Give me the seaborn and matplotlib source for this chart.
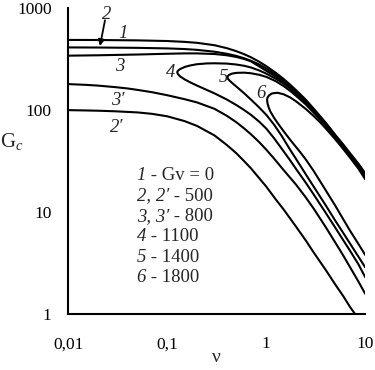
import matplotlib
matplotlib.use("Agg")
import matplotlib.pyplot as plt
import seaborn as sns
import pandas as pd
from matplotlib.ticker import LogLocator, FixedLocator, FixedFormatter, NullFormatter
from matplotlib.transforms import offset_copy

# ---- data (nu, Gc) ----
nu_1 = [0.01, 0.02, 0.05, 0.1, 0.15, 0.2, 0.3, 0.4, 0.5, 0.6, 0.7, 0.85, 1, 1.25, 1.5,
        1.75, 2, 2.5, 3, 4, 5, 6, 7, 8.5, 10]
G_1 = [488, 487, 483, 476, 467, 457, 433, 405, 378, 353, 330, 298, 270, 232, 202,
       177, 157, 127, 104, 75, 57, 46, 38, 30, 24]

nu_2 = [0.01, 0.02, 0.05, 0.1, 0.15, 0.2, 0.3, 0.4, 0.5, 0.6, 0.7, 0.85, 1, 1.25, 1.5,
        1.75, 2, 2.5, 3, 4, 5, 6, 7, 8.5, 10]
G_2 = [412, 411, 408, 403, 397, 390, 374, 357, 340, 322, 305, 280, 256, 222, 194,
       171, 152, 124, 102, 74, 56, 45, 37.3, 29.5, 23.6]

nu_3 = [0.01, 0.02, 0.05, 0.1, 0.15, 0.2, 0.3, 0.4, 0.5, 0.6, 0.7, 0.85, 1, 1.25, 1.5,
        1.75, 2, 2.5, 3, 4, 5, 6, 7, 8.5, 10]
G_3 = [342, 345, 351, 357, 360, 360, 355, 345, 332, 317, 301, 268, 243, 213, 188,
       166, 148, 121, 100, 73, 55.5, 44.5, 36.8, 29, 23.2]

nu_2p = [0.01, 0.015, 0.02, 0.03, 0.05, 0.07, 0.1, 0.15, 0.2, 0.3, 0.4, 0.5, 0.6, 0.7,
         0.85, 1, 1.25, 1.5, 2, 2.5, 3, 4, 5, 6, 7, 7.9]
G_2p = [100, 99.3, 98.7, 97.4, 95, 92, 87, 78, 70, 56.5, 45.5, 37.7, 31.5, 26.9,
        21.5, 17.8, 13.3, 10.6, 7.2, 5.3, 4.05, 2.7, 1.94, 1.5, 1.18, 1.0]

nu_3p = [0.01, 0.015, 0.02, 0.03, 0.04, 0.05, 0.07, 0.1, 0.15, 0.2, 0.3, 0.4, 0.5, 0.6,
         0.7, 0.85, 1, 1.2, 1.5, 2, 2.5, 3, 4, 5, 6, 7, 8.5, 10]
G_3p = [180, 177, 174, 168, 163, 158, 150, 140, 128, 119, 103, 88, 76, 66,
        58, 48.5, 41, 33.5, 25.8, 18.6, 14, 10.9, 7.1, 5, 3.75, 2.9, 2.1, 1.58]

nu_4 = [10, 8.5, 7, 6, 5, 4, 3, 2.5, 2, 1.75, 1.5, 1.25, 1, 0.85, 0.7, 0.6, 0.5, 0.4,
        0.3, 0.25, 0.2, 0.17, 0.15, 0.135, 0.128, 0.126,
        0.128, 0.135, 0.15, 0.175, 0.2, 0.25, 0.3, 0.4, 0.5, 0.6, 0.7, 0.85, 1, 1.2,
        1.43, 1.75, 2, 2.5, 3, 4, 5, 6, 7, 8.5, 10]
G_4 = [22.8, 28.5, 36.3, 44, 54.5, 72, 98, 118, 144, 162, 182, 203, 228, 245, 262, 272,
       280, 286, 288, 287, 282, 274, 265, 253, 243, 236,
       226, 214, 200, 185, 174, 158, 146, 127, 112, 100, 90, 77, 66, 53,
       42, 32, 26.5, 19.5, 15, 9.8, 7, 5.3, 4.2, 3.1, 2.3]

nu_5 = [10, 8.5, 7, 6, 5, 4, 3, 2.5, 2, 1.75, 1.5, 1.25, 1, 0.85, 0.7, 0.6, 0.5, 0.45,
        0.42, 0.405,
        0.41, 0.43, 0.46, 0.5, 0.6, 0.7, 0.85, 1, 1.2, 1.43, 1.74, 2, 2.5, 3, 4, 5, 6,
        7, 8.5, 10]
G_5 = [22, 27.8, 35.5, 43, 53.5, 70, 95, 114, 138, 154, 172, 192, 212, 222, 230, 233,
       232, 228, 221, 213,
       203, 193, 182, 170, 146, 127, 106, 90, 72, 56, 41, 33.2, 23.6, 17.9, 11.6, 8.2,
       6.24, 4.94, 3.68, 2.87]

nu_6 = [10, 8.5, 7, 6, 5, 4, 3.5, 3, 2.5, 2, 1.75, 1.5, 1.3, 1.15, 1.07, 1.03, 1.02,
        1.03, 1.06, 1.1, 1.2, 1.3, 1.5, 1.75, 2.19, 2.5, 3, 4, 5, 6, 7, 8.5, 10]
G_6 = [21, 26.8, 34.3, 41.5, 51.5, 66, 76, 88, 103, 122, 133, 143, 148, 146, 140, 133,
       126,
       116, 106, 97, 84, 75, 62, 51, 39, 33, 25.5, 16.3, 11.5, 8.5, 6.6, 4.9, 3.8]

x_ticks = [0.01, 0.1, 1, 10]
x_labels = ["0,01", "0,1", "1", "10"]
y_ticks = [1, 10, 100, 1000]
y_labels = ["1", "10", "100", "1000"]

legend_lines = [("1", " - Gv = 0"), ("2, 2\u2032", " - 500"), ("3, 3\u2032", " - 800"),
                ("4", " - 1100"), ("5", " - 1400"), ("6", " - 1800")]

sns.set_style("white")
plt.rcParams["font.family"] = ["Liberation Serif", "DejaVu Serif"]
plt.rcParams["mathtext.fontset"] = "custom"
plt.rcParams["mathtext.rm"] = "Liberation Serif"
plt.rcParams["mathtext.it"] = "Liberation Serif:italic"

fig = plt.figure(figsize=(3.75, 3.70), dpi=100)
ax = fig.add_axes([0.182, 0.151, 0.792, 0.827])

curves = [(nu_1, G_1), (nu_2, G_2), (nu_3, G_3), (nu_2p, G_2p), (nu_3p, G_3p),
          (nu_4, G_4), (nu_5, G_5), (nu_6, G_6)]
for xs, ys in curves:
    df = pd.DataFrame({"nu": xs, "G": ys})
    sns.lineplot(data=df, x="nu", y="G", sort=False, estimator=None,
                 color="black", lw=1.5, ax=ax)

ax.set_xscale("log")
ax.set_yscale("log")
ax.set_xlim(0.01, 10)
ax.set_ylim(1, 1000)

ax.xaxis.set_major_locator(FixedLocator(x_ticks))
ax.xaxis.set_major_formatter(FixedFormatter(x_labels))
ax.yaxis.set_major_locator(FixedLocator(y_ticks))
ax.yaxis.set_major_formatter(FixedFormatter(y_labels))
ax.xaxis.set_minor_locator(LogLocator(base=10, subs=range(2, 10), numticks=20))
ax.yaxis.set_minor_locator(LogLocator(base=10, subs=range(2, 10), numticks=20))
ax.xaxis.set_minor_formatter(NullFormatter())
ax.yaxis.set_minor_formatter(NullFormatter())

ax.tick_params(which="major", direction="out", length=8, width=1.2, labelsize=12.5,
               colors="black", pad=4)
ax.tick_params(which="minor", direction="out", length=5, width=1.1, colors="black")
ax.tick_params(axis="x", which="major", pad=8)

for s in ["top", "right"]:
    ax.spines[s].set_visible(False)
for s in ["left", "bottom"]:
    ax.spines[s].set_linewidth(1.5)
    ax.spines[s].set_color("black")

ax.set_xlabel("\u03bd", fontsize=14, va="baseline")
ax.xaxis.set_label_coords(0.5, -0.155)
ax.set_ylabel("G$_c$", fontsize=15, rotation=0)
ax.yaxis.set_label_coords(-0.19, 0.53)

# curve labels
lab_kw = dict(fontsize=13.5, style="italic", ha="center", va="center")
ax.text(0.036, 570, "1", **lab_kw)
ax.text(0.0244, 870, "2", **lab_kw)
ax.text(0.033, 270, "3", **lab_kw)
ax.text(0.109, 236, "4", **lab_kw)
ax.text(0.368, 207, "5", **lab_kw)
ax.text(0.88, 144, "6", **lab_kw)
ax.text(0.032, 125, "3\u2032", **lab_kw)
ax.text(0.031, 67, "2\u2032", **lab_kw)
ax.annotate("", xy=(0.0209, 425), xytext=(0.0235, 760),
            arrowprops=dict(arrowstyle="-|>", color="black", lw=1.3,
                            mutation_scale=9, shrinkA=0, shrinkB=0))

# legend block: italic curve numbers followed by upright values
fig.canvas.draw()
renderer = fig.canvas.get_renderer()
ys_frac = [0.454, 0.386, 0.320, 0.253, 0.185, 0.12]
for (it, rest), yf in zip(legend_lines, ys_frac):
    t1 = ax.text(0.23, yf, it, transform=ax.transAxes, fontsize=13.5,
                 style="italic", ha="left", va="center")
    w = t1.get_window_extent(renderer=renderer).width
    tr = offset_copy(ax.transAxes, fig=fig, x=w * 72.0 / fig.dpi, y=0, units="points")
    ax.text(0.23, yf, rest, transform=tr, fontsize=13.5, ha="left", va="center")

fig.savefig("out.png", dpi=100)
